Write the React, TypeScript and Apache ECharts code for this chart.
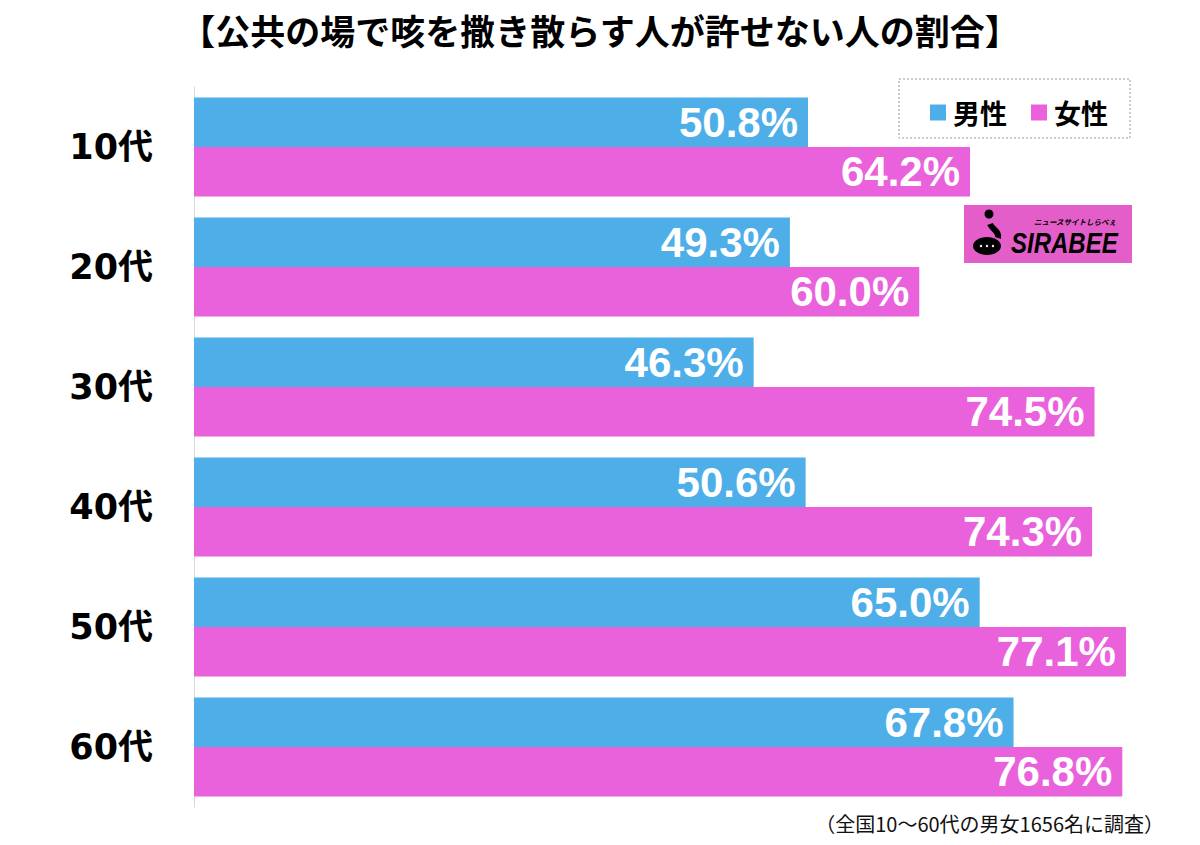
import React, { useEffect, useRef } from "react";
import * as echarts from "echarts";

const categories = ["10代", "20代", "30代", "40代", "50代", "60代"];
const seriesNames = ["男性", "女性"];
const maleValues = [50.8, 49.3, 46.3, 50.6, 65.0, 67.8];
const femaleValues = [64.2, 60.0, 74.5, 74.3, 77.1, 76.8];
const titleText = "【公共の場で咳を撒き散らす人が許せない人の割合】";
const noteText = "（全国10〜60代の男女1656名に調査）";

const BLUE = "#4DAEE8";
const PINK = "#E962DC";
const FONT = "'Liberation Sans', 'Noto Sans CJK JP', sans-serif";
const CJK = "'Noto Sans CJK JP', sans-serif";

export default function App() {
  const ref = useRef<HTMLDivElement>(null);
  useEffect(() => {
    if (!ref.current) return;
    const chart = echarts.init(ref.current, null, { renderer: "svg" });
    const label = {
      show: true,
      position: "insideRight",
      distance: 10,
      color: "#fff",
      fontSize: 42,
      fontWeight: "bold",
      fontFamily: FONT,
      formatter: (p: any) => Number(p.value).toFixed(1) + "%",
    };
    chart.setOption({
      animation: false,
      backgroundColor: "#fff",
      legend: {
        data: seriesNames,
        left: 925,
        top: 94,
        icon: "rect",
        itemWidth: 16,
        itemHeight: 16,
        itemGap: 24,
        textStyle: {
          fontSize: 27,
          fontWeight: "bold",
          color: "#000",
          fontFamily: CJK,
          padding: [0, 0, 0, 2],
        },
      },
      grid: { left: 194, top: 87, width: 967, height: 720, containLabel: false },
      xAxis: {
        type: "value",
        min: 0,
        max: 80,
        show: false,
      },
      yAxis: {
        type: "category",
        data: categories,
        inverse: true,
        axisLine: { show: true, lineStyle: { color: "#d8d8d8", width: 1 } },
        axisTick: { show: false },
        axisLabel: {
          margin: 41,
          fontSize: 35,
          fontWeight: "bold",
          color: "#000",
          fontFamily: "'DejaVu Sans', 'Noto Sans CJK JP', sans-serif",
        },
      },
      series: [
        {
          name: seriesNames[0],
          type: "bar",
          data: maleValues,
          itemStyle: { color: BLUE },
          barGap: "0%",
          barCategoryGap: "17.5%",
          label,
        },
        {
          name: seriesNames[1],
          type: "bar",
          data: femaleValues,
          itemStyle: { color: PINK },
          barGap: "0%",
          barCategoryGap: "17.5%",
          label,
        },
      ],
      graphic: [
        {
          type: "text",
          style: {
            x: 600,
            y: 29,
            text: titleText,
            fontSize: 35,
            fontWeight: "bold",
            fill: "#000",
            fontFamily: CJK,
            textAlign: "center",
            verticalAlign: "middle",
          },
        },
        {
          type: "rect",
          shape: { x: 899, y: 79, width: 231, height: 59 },
          style: { fill: "none", stroke: "#999", lineWidth: 1, lineDash: [2, 2] },
          z: 10,
        },
        {
          type: "group",
          z: 10,
          children: [
            {
              type: "rect",
              shape: { x: 964, y: 205, width: 168, height: 58 },
              style: { fill: "#E35EC8" },
            },
            {
              type: "circle",
              shape: { cx: 989, cy: 214, r: 4.5 },
              style: { fill: "#000" },
            },
            {
              type: "bezierCurve",
              shape: { x1: 990, y1: 224, x2: 998, y2: 238, cpx1: 992, cpy1: 229, cpx2: 1000, cpy2: 232 },
              style: { stroke: "#000", lineWidth: 6, fill: "none" },
            },
            {
              type: "ellipse",
              shape: { cx: 987, cy: 246, rx: 14, ry: 9 },
              style: { fill: "#000" },
            },
            {
              type: "circle",
              shape: { cx: 981, cy: 246, r: 1.2 },
              style: { fill: "#fff" },
            },
            {
              type: "circle",
              shape: { cx: 987, cy: 246, r: 1.2 },
              style: { fill: "#fff" },
            },
            {
              type: "circle",
              shape: { cx: 993, cy: 246, r: 1.2 },
              style: { fill: "#fff" },
            },
            {
              type: "text",
              style: {
                x: 1034,
                y: 221,
                text: "ニュースサイトしらべぇ",
                fontSize: 7.5,
                fontWeight: "bold",
                fontStyle: "italic",
                fill: "#000",
                fontFamily: CJK,
                verticalAlign: "middle",
              },
            },
            {
              type: "text",
              x: 1011,
              y: 243,
              scaleY: 1.25,
              style: {
                x: 0,
                y: 0,
                text: "SIRABEE",
                fontSize: 24,
                fontWeight: "bold",
                fontStyle: "italic",
                fill: "#000",
                fontFamily: "'Liberation Sans', sans-serif",
                verticalAlign: "middle",
              },
            },
          ],
        },
        {
          type: "text",
          style: {
            x: 1164,
            y: 823,
            text: noteText,
            fontSize: 20,
            fill: "#111",
            textAlign: "right",
            verticalAlign: "middle",
            fontFamily: CJK,
          },
        },
      ],
    });
    return () => chart.dispose();
  }, []);
  return (
    <div
      ref={ref}
      style={{ position: "fixed", left: 0, top: 0, width: 1200, height: 845 }}
    />
  );
}
